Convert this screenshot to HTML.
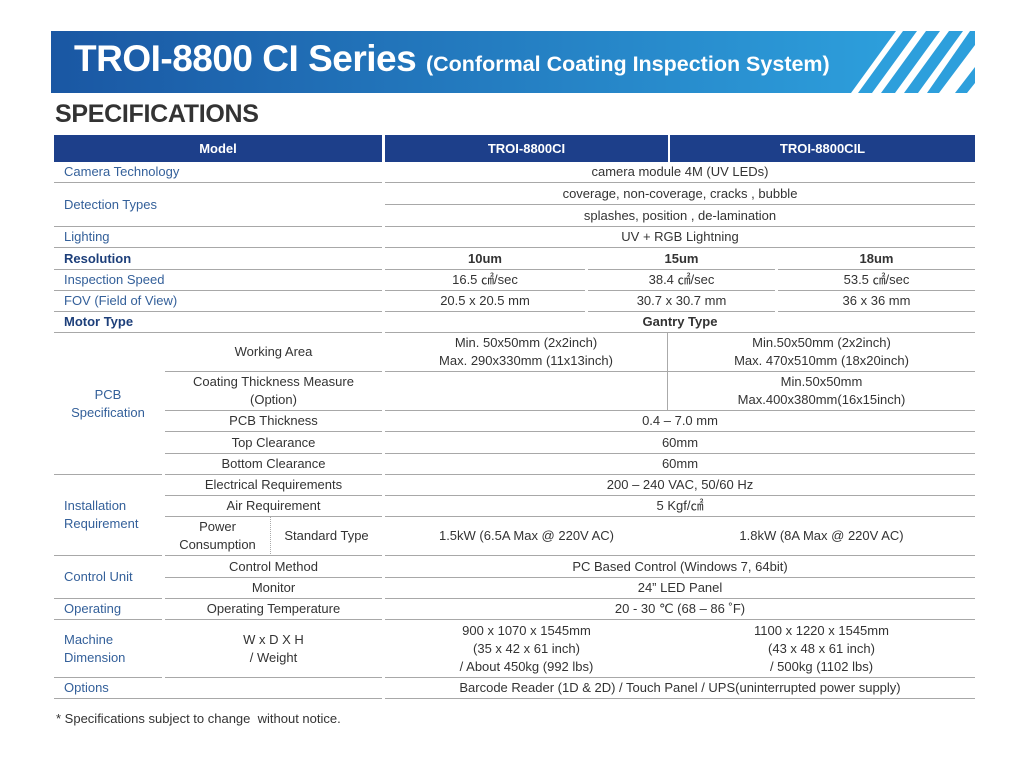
<!DOCTYPE html>
<html><head><meta charset="utf-8"><style>
body{margin:0;width:1024px;height:759px;background:#fff;position:relative;overflow:hidden;font-family:"Liberation Sans",sans-serif}
.b{position:absolute;left:51px;top:31px;width:924px;height:62px}
.t{position:absolute;left:74px;top:38px;color:#fff;font-weight:bold;font-size:37px;letter-spacing:-0.5px;white-space:nowrap}
.t span{font-size:21.5px;letter-spacing:0}
.s{position:absolute;left:55px;top:100px;font-size:25px;font-weight:bold;color:#333;letter-spacing:-0.3px}
.h{position:absolute;top:135px;height:27px;background:#1d3f8a;color:#fff;font-size:13px;font-weight:bold;display:flex;align-items:center;justify-content:center}
.c{position:absolute;box-sizing:border-box;border-bottom:1.5px solid #a8a8a8;font-size:13px;color:#333;display:flex;align-items:center;justify-content:center;text-align:center;line-height:18px}
.l{justify-content:flex-start;padding-left:10px;color:#34609a;text-align:left}
.g{color:#34609a}
.k{font-weight:bold;color:#1d3f7a}
.f{position:absolute;left:56px;top:711px;font-size:13px;color:#333}
</style></head><body>
<svg class="b" viewBox="0 0 924 62">
<defs><linearGradient id="gr" x1="0" x2="1"><stop offset="0" stop-color="#1a57a3"/><stop offset="1" stop-color="#2d9fdc"/></linearGradient></defs>
<polygon points="0,0 845,0 800,62 0,62" fill="url(#gr)"/>
<g fill="#2d9fdc">
<polygon points="852,0 866,0 821,62 807,62"/>
<polygon points="875,0 889,0 844,62 830,62"/>
<polygon points="898,0 912,0 867,62 853,62"/>
<polygon points="919,0 924,0 924,14 888,62 876,62"/>
<polygon points="924,36 924,52 916,62 904,62"/>
</g></svg>
<div class="t">TROI-8800 CI Series <span>(Conformal Coating Inspection System)</span></div>
<div class="s">SPECIFICATIONS</div>
<div class="h" style="left:54px;width:328px">Model</div>
<div class="h" style="left:385px;width:283px">TROI-8800CI</div>
<div class="h" style="left:670px;width:305px">TROI-8800CIL</div>

<div class="c l" style="left:54px;top:162px;width:328px;height:21px">Camera Technology</div>
<div class="c l" style="left:54px;top:183px;width:328px;height:44px">Detection Types</div>
<div class="c l" style="left:54px;top:227px;width:328px;height:21px">Lighting</div>
<div class="c l k" style="left:54px;top:248px;width:328px;height:22px">Resolution</div>
<div class="c l" style="left:54px;top:270px;width:328px;height:21px">Inspection Speed</div>
<div class="c l" style="left:54px;top:291px;width:328px;height:21px">FOV (Field of View)</div>
<div class="c l k" style="left:54px;top:312px;width:328px;height:21px">Motor Type</div>
<div class="c g" style="left:54px;top:333px;width:108px;height:142px">PCB<br>Specification</div>
<div class="c" style="left:165px;top:333px;width:217px;height:39px">Working Area</div>
<div class="c" style="left:165px;top:372px;width:217px;height:39px">Coating Thickness Measure<br>(Option)</div>
<div class="c" style="left:165px;top:411px;width:217px;height:21px">PCB Thickness</div>
<div class="c" style="left:165px;top:432px;width:217px;height:22px">Top Clearance</div>
<div class="c" style="left:165px;top:454px;width:217px;height:21px">Bottom Clearance</div>
<div class="c l" style="left:54px;top:475px;width:108px;height:81px">Installation<br>Requirement</div>
<div class="c" style="left:165px;top:475px;width:217px;height:21px">Electrical Requirements</div>
<div class="c" style="left:165px;top:496px;width:217px;height:21px">Air Requirement</div>
<div class="c" style="left:165px;top:517px;width:106px;height:39px;border-right:1px dotted #aaa">Power<br>Consumption</div>
<div class="c" style="left:271px;top:517px;width:111px;height:39px">Standard Type</div>
<div class="c l" style="left:54px;top:556px;width:108px;height:43px">Control Unit</div>
<div class="c" style="left:165px;top:556px;width:217px;height:22px">Control Method</div>
<div class="c" style="left:165px;top:578px;width:217px;height:21px">Monitor</div>
<div class="c l" style="left:54px;top:599px;width:108px;height:21px">Operating</div>
<div class="c" style="left:165px;top:599px;width:217px;height:21px">Operating Temperature</div>
<div class="c l" style="left:54px;top:620px;width:108px;height:58px">Machine<br>Dimension</div>
<div class="c" style="left:165px;top:620px;width:217px;height:58px">W x D X H<br>/ Weight</div>
<div class="c l" style="left:54px;top:678px;width:328px;height:21px">Options</div>

<div class="c" style="left:385px;top:162px;width:590px;height:21px">camera module 4M (UV LEDs)</div>
<div class="c" style="left:385px;top:183px;width:590px;height:22px">coverage, non-coverage, cracks , bubble</div>
<div class="c" style="left:385px;top:205px;width:590px;height:22px">splashes, position , de-lamination</div>
<div class="c" style="left:385px;top:227px;width:590px;height:21px">UV + RGB Lightning</div>
<div class="c k" style="left:385px;top:248px;width:200px;height:22px;color:#333">10um</div>
<div class="c k" style="left:588px;top:248px;width:187px;height:22px;color:#333">15um</div>
<div class="c k" style="left:778px;top:248px;width:197px;height:22px;color:#333">18um</div>
<div class="c" style="left:385px;top:270px;width:200px;height:21px">16.5 ㎠/sec</div>
<div class="c" style="left:588px;top:270px;width:187px;height:21px">38.4 ㎠/sec</div>
<div class="c" style="left:778px;top:270px;width:197px;height:21px">53.5 ㎠/sec</div>
<div class="c" style="left:385px;top:291px;width:200px;height:21px">20.5 x 20.5 mm</div>
<div class="c" style="left:588px;top:291px;width:187px;height:21px">30.7 x 30.7 mm</div>
<div class="c" style="left:778px;top:291px;width:197px;height:21px">36 x 36 mm</div>
<div class="c k" style="left:385px;top:312px;width:590px;height:21px;color:#333">Gantry Type</div>
<div class="c" style="left:385px;top:333px;width:283px;height:39px;border-right:1px solid #aaa">Min. 50x50mm (2x2inch)<br>Max. 290x330mm (11x13inch)</div>
<div class="c" style="left:668px;top:333px;width:307px;height:39px">Min.50x50mm (2x2inch)<br>Max. 470x510mm (18x20inch)</div>
<div class="c" style="left:385px;top:372px;width:283px;height:39px;border-right:1px solid #aaa"></div>
<div class="c" style="left:668px;top:372px;width:307px;height:39px">Min.50x50mm<br>Max.400x380mm(16x15inch)</div>
<div class="c" style="left:385px;top:411px;width:590px;height:21px">0.4 – 7.0 mm</div>
<div class="c" style="left:385px;top:432px;width:590px;height:22px">60mm</div>
<div class="c" style="left:385px;top:454px;width:590px;height:21px">60mm</div>
<div class="c" style="left:385px;top:475px;width:590px;height:21px">200 – 240 VAC, 50/60 Hz</div>
<div class="c" style="left:385px;top:496px;width:590px;height:21px">5 Kgf/㎠</div>
<div class="c" style="left:385px;top:517px;width:283px;height:39px">1.5kW (6.5A Max @ 220V AC)</div>
<div class="c" style="left:668px;top:517px;width:307px;height:39px">1.8kW (8A Max @ 220V AC)</div>
<div class="c" style="left:385px;top:556px;width:590px;height:22px">PC Based Control (Windows 7, 64bit)</div>
<div class="c" style="left:385px;top:578px;width:590px;height:21px">24” LED Panel</div>
<div class="c" style="left:385px;top:599px;width:590px;height:21px">20 - 30 ℃ (68 – 86 ˚F)</div>
<div class="c" style="left:385px;top:620px;width:283px;height:58px">900 x 1070 x 1545mm<br>(35 x 42 x 61 inch)<br>/ About 450kg (992 lbs)</div>
<div class="c" style="left:668px;top:620px;width:307px;height:58px">1100 x 1220 x 1545mm<br>(43 x 48 x 61 inch)<br>/ 500kg (1102 lbs)</div>
<div class="c" style="left:385px;top:678px;width:590px;height:21px">Barcode Reader (1D &amp; 2D) / Touch Panel / UPS(uninterrupted power supply)</div>
<div class="f">* Specifications subject to change&nbsp; without notice.</div>
</body></html>
